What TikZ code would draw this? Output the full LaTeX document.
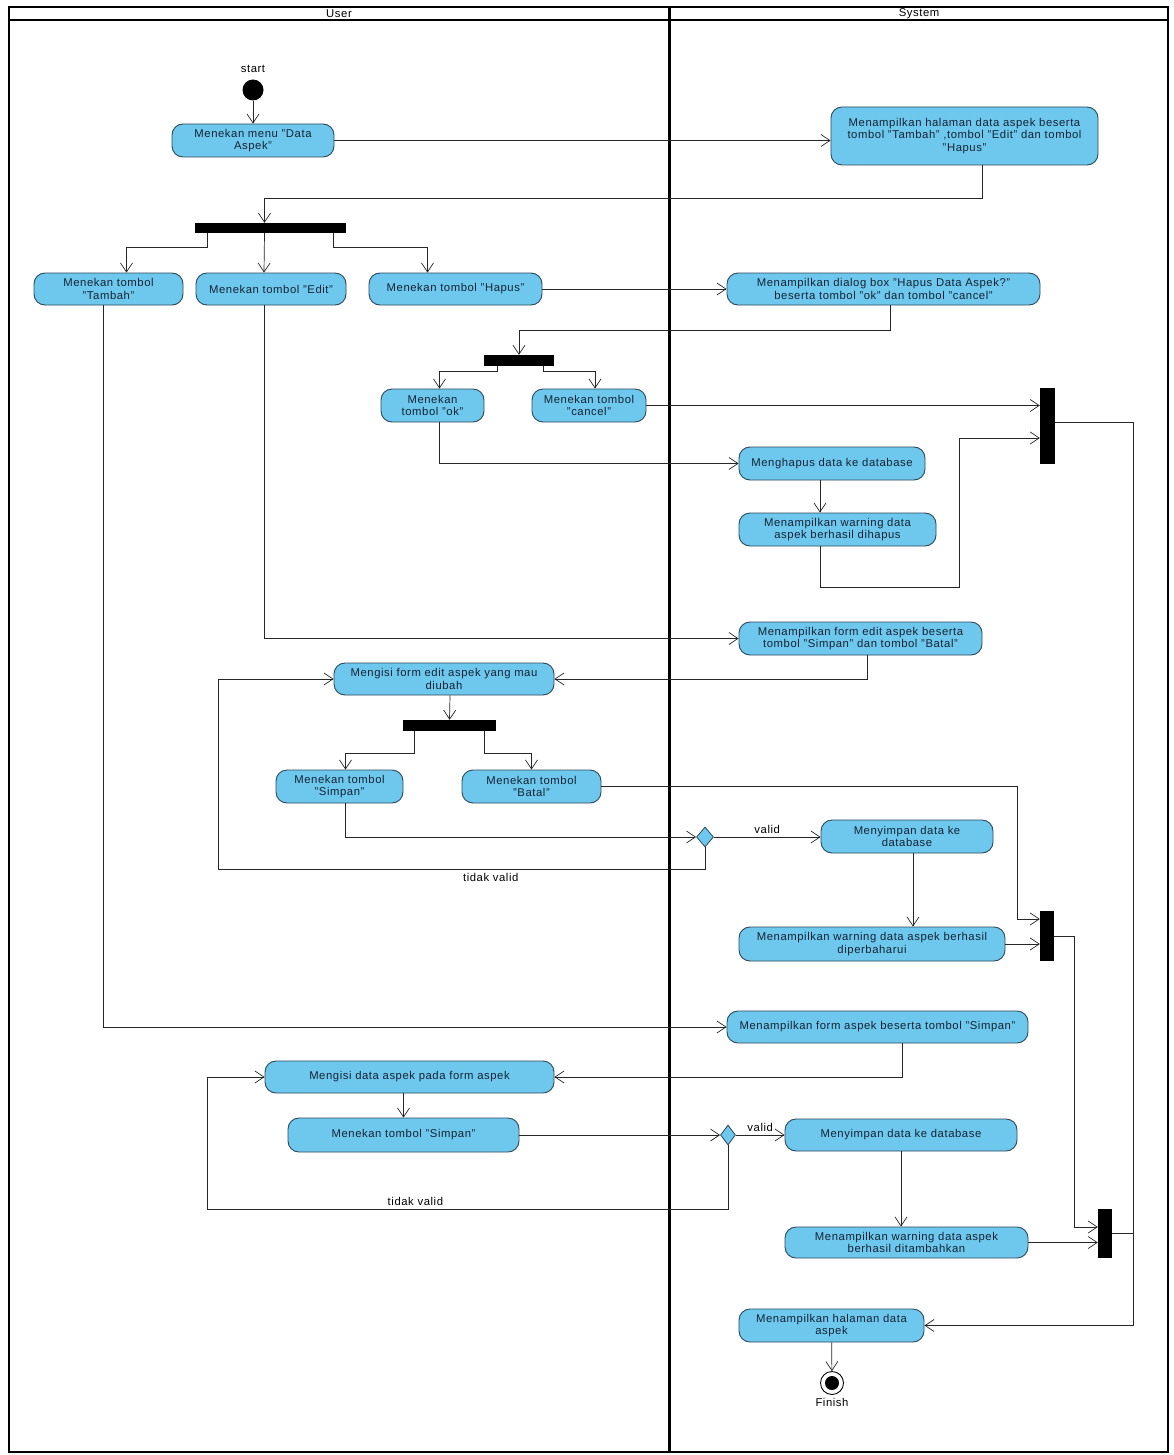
\documentclass[tikz,border=0pt]{standalone}
\usepackage{fontspec}
\setmainfont{Liberation Sans}[LetterSpace=5]
\usetikzlibrary{arrows.meta,shapes.geometric}
\definecolor{actfill}{RGB}{110,200,238}
\definecolor{actline}{RGB}{45,72,90}
\definecolor{acttext}{RGB}{20,35,50}
\newcommand{\actfont}{\fontsize{11.3}{12.7}\selectfont}
\begin{document}
\begin{tikzpicture}[x=1pt, y=-1pt,
    act/.style={draw=actline, fill=actfill, text=acttext, rounded corners=11pt, line width=0.9pt, align=center, inner sep=1pt, font=\actfont},
    bar/.style={fill=black, inner sep=0pt},
    dec/.style={diamond, draw=actline, fill=actfill, line width=0.8pt, inner sep=0pt},
    arr/.style={-{Straight Barb[length=9pt, width=12pt]}, line width=0.7pt, draw=black!85},
    flow/.style={line width=0.7pt, draw=black!85},
    lane/.style={line width=1.3pt},
    lanediv/.style={line width=2.4pt}
]
\useasboundingbox (0,0) rectangle (1173,1455);
\fill[white] (0,0) rectangle (1173,1455);

% Swimlanes
\draw[lane] (9,7) rectangle (1168,1452);
\draw[lanediv] (9,20) -- (1168,20);
\draw[lanediv] (669.5,7) -- (669.5,1452);
\node[font=\actfont] (user)   at (339,13.5) {User};
\node[font=\actfont] (system) at (919,13.5) {System};

% Start and menu
\node[circle, fill=black, minimum size=21pt, inner sep=0pt,
      label={[font=\actfont, label distance=3pt]above:start}] (start) at (253,90) {};
\node[act, minimum width=162pt, minimum height=33pt] (menu)    at (253,140.5) {Menekan menu "Data\\Aspek"};
\node[act, minimum width=267pt, minimum height=58pt] (halaman) at (964.5,136) {Menampilkan halaman data aspek beserta\\tombol "Tambah" ,tombol "Edit" dan tombol\\"Hapus"};

% Fork to the three buttons
\node[bar, minimum width=151pt, minimum height=10pt] (fork1) at (270.5,228) {};
\node[act, minimum width=149pt, minimum height=32pt] (tambah) at (108.5,289) {Menekan tombol\\"Tambah"};
\node[act, minimum width=150pt, minimum height=32pt] (edit)   at (271,289)   {Menekan tombol "Edit"};
\node[act, minimum width=173pt, minimum height=32pt] (hapus)  at (455.5,289) {Menekan tombol "Hapus"};

% Hapus branch
\node[act, minimum width=313pt, minimum height=32pt] (dialog) at (883.5,289) {Menampilkan dialog box "Hapus Data Aspek?"\\beserta tombol "ok" dan tombol "cancel"};
\node[bar, minimum width=70pt, minimum height=11pt] (fork2) at (519,360.5) {};
\node[act, minimum width=103pt, minimum height=33pt] (ok)     at (432.5,405.5) {Menekan\\tombol "ok"};
\node[act, minimum width=114pt, minimum height=33pt] (cancel) at (589,405.5)   {Menekan tombol\\"cancel"};
\node[bar, minimum width=15pt, minimum height=76pt] (join1) at (1047.5,426) {};
\node[act, minimum width=186pt, minimum height=33pt] (hapusdb)   at (832,463.5)   {Menghapus data ke database};
\node[act, minimum width=197pt, minimum height=33pt] (warnhapus) at (837.5,529.5) {Menampilkan warning data\\aspek berhasil dihapus};

% Edit branch
\node[act, minimum width=243pt, minimum height=33pt] (formedit) at (860.5,638.5) {Menampilkan form edit aspek beserta\\tombol "Simpan" dan tombol "Batal"};
\node[act, minimum width=220pt, minimum height=32pt] (isiedit)  at (444,679)     {Mengisi form edit aspek yang mau\\diubah};
\node[bar, minimum width=93pt, minimum height=11pt] (fork3) at (449.5,725.5) {};
\node[act, minimum width=127pt, minimum height=33pt] (simpanedit) at (339.5,786.5) {Menekan tombol\\"Simpan"};
\node[act, minimum width=139pt, minimum height=33pt] (batal)      at (531.5,786.5) {Menekan tombol\\"Batal"};
\node[dec, minimum width=17pt, minimum height=20pt] (cek1) at (705,837) {};
\node[act, minimum width=172pt, minimum height=33pt] (simpandb1) at (907,836.5) {Menyimpan data ke\\database};
\node[act, minimum width=266pt, minimum height=34pt] (warnubah)  at (872,944)   {Menampilkan warning data aspek berhasil\\diperbaharui};
\node[bar, minimum width=14pt, minimum height=50pt] (join2) at (1047,936) {};

% Tambah branch
\node[act, minimum width=301pt, minimum height=32pt] (formtambah)   at (877.5,1027) {Menampilkan form aspek beserta tombol "Simpan"};
\node[act, minimum width=289pt, minimum height=32pt] (isitambah)    at (409.5,1077) {Mengisi data aspek pada form aspek};
\node[act, minimum width=231pt, minimum height=34pt] (simpantambah) at (403.5,1135) {Menekan tombol "Simpan"};
\node[dec, minimum width=15pt, minimum height=20pt] (cek2) at (728,1135) {};
\node[act, minimum width=232pt, minimum height=32pt] (simpandb2)  at (901,1135)    {Menyimpan data ke database};
\node[act, minimum width=243pt, minimum height=31pt] (warntambah) at (906.5,1242.5) {Menampilkan warning data aspek\\berhasil ditambahkan};
\node[bar, minimum width=14pt, minimum height=49pt] (join3) at (1105,1233.5) {};

% End
\node[act, minimum width=185pt, minimum height=33pt] (halamanakhir) at (831.5,1325.5) {Menampilkan halaman data\\aspek};
\node[circle, draw=black, line width=0.9pt, fill=white, minimum size=23pt, inner sep=0pt,
      path picture={\fill[black] (path picture bounding box.center) circle (7pt);},
      label={[font=\actfont, label distance=0pt]below:Finish}] (finish) at (832,1383) {};

% Flows
\draw[arr] (start) -- (menu);
\draw[arr] (menu.east) -- (menu.east -| halaman.west);
\draw[arr] ([xshift=18pt]halaman.south) -- ++(0,33) -| ([xshift=-6pt]fork1.north);
\draw[arr] ([xshift=-63pt]fork1.south) -- ++(0,14) -| ([xshift=18pt]tambah.north);
\draw[arr] ([xshift=-6pt]fork1.south) -- ([xshift=-7pt]edit.north);
\draw[arr] ([xshift=63pt]fork1.south) -- ++(0,14) -| ([xshift=-28pt]hapus.north);
\draw[arr] (hapus.east) -- (dialog.west);
\draw[arr] ([xshift=7pt]dialog.south) -- ++(0,25) -| (fork2.north);
\draw[arr] ([xshift=-22pt]fork2.south) -- ++(0,5) -| ([xshift=7pt]ok.north);
\draw[arr] ([xshift=24pt]fork2.south) -- ++(0,5) -| ([xshift=6pt]cancel.north);
\draw[arr] (cancel.east) -- (cancel.east -| join1.west);
\draw[arr] ([xshift=7pt]ok.south) |- (hapusdb.west);
\draw[arr] ([xshift=-12pt]hapusdb.south) -- ([xshift=-12pt]hapusdb.south |- warnhapus.north);
\draw[arr] ([xshift=-17pt]warnhapus.south) -- ++(0,41) -- ++(139,0) |- ([yshift=-12pt]join1.west);
\draw[arr] ([yshift=4pt]join1.east) -- ++(78,0) |- (halamanakhir.east);

\draw[arr] ([xshift=-7pt]edit.south) |- (formedit.west);
\draw[arr] ([xshift=7pt]formedit.south) |- (isiedit.east);
\draw[arr] ([xshift=6pt]isiedit.south) -- (fork3.north);
\draw[arr] ([xshift=-35pt]fork3.south) -- ++(0,22) -| ([xshift=6pt]simpanedit.north);
\draw[arr] ([xshift=35pt]fork3.south) -- ++(0,22) -| (batal.north);
\draw[arr] ([xshift=6pt]simpanedit.south) |- (cek1.west);
\draw[arr] (cek1.east) -- node[above, font=\actfont] {valid} (cek1.east -| simpandb1.west);
\draw[arr] (cek1.south) -- ++(0,22) -- node[below, pos=0.44, font=\actfont] {tidak valid} ++(-487,0) |- (isiedit.west);
\draw[arr] (batal.east) -- ++(416,0) |- ([yshift=17pt]join2.west);
\draw[arr] ([xshift=6pt]simpandb1.south) -- ([xshift=6pt]simpandb1.south |- warnubah.north);
\draw[arr] (warnubah.east) -- (warnubah.east -| join2.west);
\draw[arr] (join2.east) -- ++(20,0) |- ([yshift=6.5pt]join3.west);

\draw[arr] ([xshift=-5pt]tambah.south) |- (formtambah.west);
\draw[arr] ([xshift=25pt]formtambah.south) |- (isitambah.east);
\draw[arr] (simpantambah.north |- isitambah.south) -- (simpantambah.north);
\draw[arr] (simpantambah.east) -- (cek2.west);
\draw[arr] (cek2.east) -- node[above, font=\actfont] {valid} (simpandb2.west);
\draw[arr] (cek2.south) -- ++(0,64) -- node[above, pos=0.6, font=\actfont] {tidak valid} ++(-521,0) |- (isitambah.west);
\draw[arr] (simpandb2.south) -- (simpandb2.south |- warntambah.north);
\draw[arr] (warntambah.east) -- (warntambah.east -| join3.west);
\draw[flow] (join3.east) -- ++(21,0);
\draw[arr] (halamanakhir) -- (finish);
\end{tikzpicture}
\end{document}
